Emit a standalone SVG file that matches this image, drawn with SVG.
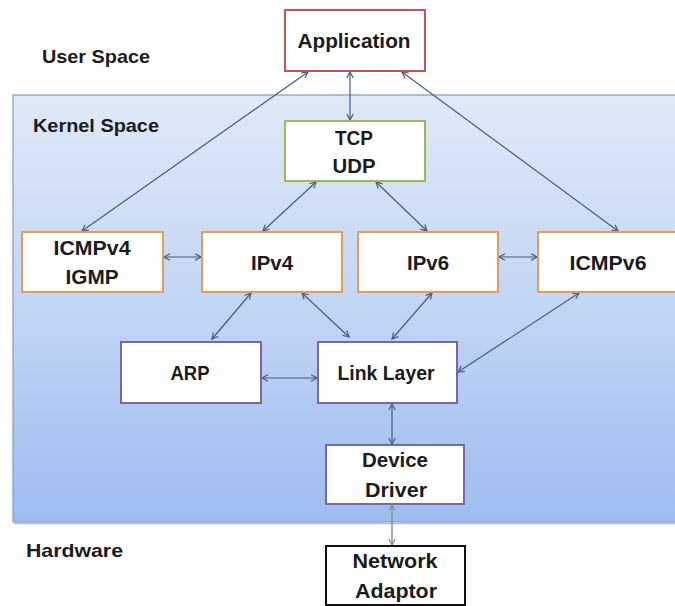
<svg xmlns="http://www.w3.org/2000/svg" width="675" height="606" viewBox="0 0 675 606">
  <defs>
    <linearGradient id="kernelFill" x1="0" y1="0" x2="0" y2="1">
      <stop offset="0" stop-color="#e0e9f7"/>
      <stop offset="0.5" stop-color="#c2d5f5"/>
      <stop offset="1" stop-color="#9dbcf0"/>
    </linearGradient>
    <marker id="headGray" viewBox="0 0 8 8" refX="7" refY="4" markerWidth="8" markerHeight="8" markerUnits="userSpaceOnUse" orient="auto-start-reverse">
      <path d="M1,0.8 L7,4 L1,7.2" fill="none" stroke="#8a8a8a" stroke-width="1.2"/>
    </marker>
    <marker id="headBlue" viewBox="0 0 8 8" refX="7" refY="4" markerWidth="8" markerHeight="8" markerUnits="userSpaceOnUse" orient="auto-start-reverse">
      <path d="M1,0.8 L7,4 L1,7.2" fill="none" stroke="#4a5b7c" stroke-width="1.2"/>
    </marker>
  </defs>
  <style>
    text { font-family: "Liberation Sans", Arial, sans-serif; font-weight: bold; fill: #1b1b1b; }
    .region { font-size: 19px; }
    .label { font-size: 21px; text-anchor: middle; }
    .box { fill: #ffffff; stroke-width: 2; }
    .red { stroke: #c65359; }
    .green { stroke: #9bbb59; }
    .orange { stroke: #ee9858; }
    .purple { stroke: #7a66a4; }
    .black { stroke: #111111; }
    .link { fill: none; stroke: #4a5b7c; stroke-width: 1.2; marker-start: url(#headBlue); marker-end: url(#headBlue); }
    .hw { fill: none; stroke: #8a8a8a; stroke-width: 1.4; marker-start: url(#headGray); marker-end: url(#headGray); }
  </style>

  <rect width="675" height="606" fill="#ffffff"/>

  <!-- kernel space panel -->
  <g id="kernel-panel">
    <rect x="13" y="95" width="680" height="427" fill="url(#kernelFill)" stroke="#8fa2c0" stroke-width="1.3"/>
    <line x1="14" y1="523.5" x2="675" y2="523.5" stroke="#b8bcc4" stroke-width="1.5"/>
  </g>

  <!-- region labels -->
  <text class="region" x="42" y="63" textLength="108" lengthAdjust="spacingAndGlyphs">User Space</text>
  <text class="region" x="33" y="132" textLength="126" lengthAdjust="spacingAndGlyphs">Kernel Space</text>
  <text class="region" x="26" y="557" textLength="97" lengthAdjust="spacingAndGlyphs">Hardware</text>

  <!-- connectors -->
  <g id="connectors">
    <line class="link" x1="308" y1="72" x2="82" y2="231"/>
    <line class="link" x1="350" y1="72" x2="350" y2="120"/>
    <line class="link" x1="402" y1="72" x2="618" y2="231"/>
    <line class="link" x1="316" y1="182" x2="263" y2="231"/>
    <line class="link" x1="376" y1="182" x2="427" y2="231"/>
    <line class="link" x1="164" y1="257" x2="201" y2="257"/>
    <line class="link" x1="499" y1="257" x2="537" y2="257"/>
    <line class="link" x1="251" y1="293" x2="212" y2="339"/>
    <line class="link" x1="302" y1="293" x2="349" y2="337"/>
    <line class="link" x1="432" y1="293" x2="392" y2="339"/>
    <line class="link" x1="579" y1="293" x2="458" y2="372"/>
    <line class="link" x1="262" y1="378" x2="317" y2="378"/>
    <line class="link" x1="392" y1="404" x2="392" y2="444"/>
    <line class="hw" x1="392" y1="505" x2="392" y2="545"/>
  </g>

  <!-- nodes -->
  <g id="application">
    <rect class="box red" x="285" y="10" width="140" height="61"/>
    <text class="label" x="354" y="48" textLength="113" lengthAdjust="spacingAndGlyphs">Application</text>
  </g>
  <g id="tcp-udp">
    <rect class="box green" x="285" y="121" width="140" height="60"/>
    <text class="label" x="354" y="145" textLength="38" lengthAdjust="spacingAndGlyphs">TCP</text>
    <text class="label" x="354" y="173" textLength="43" lengthAdjust="spacingAndGlyphs">UDP</text>
  </g>
  <g id="icmpv4-igmp">
    <rect class="box orange" x="22" y="232" width="141" height="60"/>
    <text class="label" x="92" y="255" textLength="77" lengthAdjust="spacingAndGlyphs">ICMPv4</text>
    <text class="label" x="92" y="284" textLength="53" lengthAdjust="spacingAndGlyphs">IGMP</text>
  </g>
  <g id="ipv4">
    <rect class="box orange" x="202" y="232" width="140" height="60"/>
    <text class="label" x="272" y="270" textLength="42" lengthAdjust="spacingAndGlyphs">IPv4</text>
  </g>
  <g id="ipv6">
    <rect class="box orange" x="358" y="232" width="140" height="60"/>
    <text class="label" x="428" y="270" textLength="42" lengthAdjust="spacingAndGlyphs">IPv6</text>
  </g>
  <g id="icmpv6">
    <rect class="box orange" x="538" y="232" width="140" height="60"/>
    <text class="label" x="608" y="270" textLength="77" lengthAdjust="spacingAndGlyphs">ICMPv6</text>
  </g>
  <g id="arp">
    <rect class="box purple" x="121" y="342" width="140" height="61"/>
    <text class="label" x="190" y="380" textLength="39" lengthAdjust="spacingAndGlyphs">ARP</text>
  </g>
  <g id="link-layer">
    <rect class="box purple" x="318" y="342" width="139" height="61"/>
    <text class="label" x="386" y="380" textLength="97" lengthAdjust="spacingAndGlyphs">Link Layer</text>
  </g>
  <g id="device-driver">
    <rect class="box purple" x="326" y="445" width="138" height="59"/>
    <text class="label" x="395" y="467" textLength="66" lengthAdjust="spacingAndGlyphs">Device</text>
    <text class="label" x="396" y="497" textLength="62" lengthAdjust="spacingAndGlyphs">Driver</text>
  </g>
  <g id="network-adaptor">
    <rect class="box black" x="326" y="546" width="139" height="59"/>
    <text class="label" x="395" y="568" textLength="85" lengthAdjust="spacingAndGlyphs">Network</text>
    <text class="label" x="396" y="598" textLength="82" lengthAdjust="spacingAndGlyphs">Adaptor</text>
  </g>
</svg>
